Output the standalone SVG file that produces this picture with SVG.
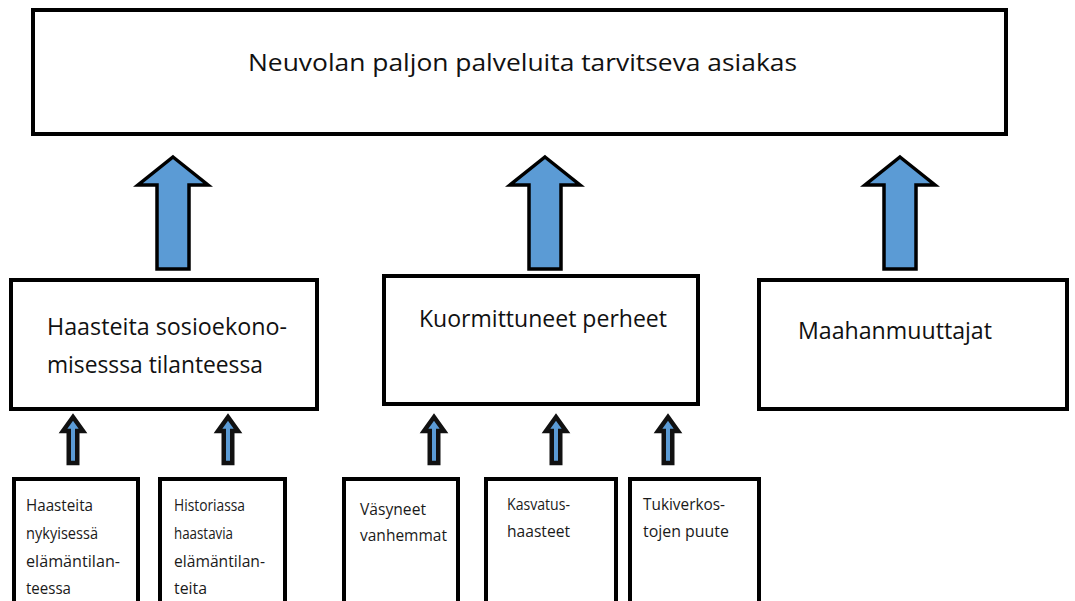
<svg xmlns="http://www.w3.org/2000/svg" width="1075" height="601" viewBox="0 0 1075 601">
  <defs>
    <style>
      .box { fill: #ffffff; stroke: #000000; stroke-width: 4; }
      .big-arrow { fill: #5B9BD5; stroke: #000000; stroke-width: 3.5; stroke-linejoin: miter; }
      .small-arrow { fill: #5B9BD5; stroke: #111111; stroke-width: 4.5; stroke-linejoin: miter; }
      .t-lg { font-family: "Open Sans", "Noto Sans", "Liberation Sans", sans-serif; font-size: 24px; fill: #111111; }
      .t-md { font-family: "Open Sans", "Noto Sans", "Liberation Sans", sans-serif; font-size: 23.5px; fill: #111111; }
      .t-sm { font-family: "Open Sans", "Noto Sans", "Liberation Sans", sans-serif; font-size: 15.5px; fill: #1a1a1a; }
    </style>
    <!-- block arrows drawn around origin, tip at y=0 -->
    <polygon id="bigArrow" class="big-arrow" points="0,0 35,28 16,28 16,112 -16,112 -16,28 -35,28"/>
    <polygon id="smallArrow" class="small-arrow" points="0,0 10,14 4.25,14 4.25,46 -4.25,46 -4.25,14 -10,14"/>
  </defs>

  <rect width="1075" height="601" fill="#ffffff"/>

  <!-- top level -->
  <g id="node-asiakas">
    <rect class="box" x="33" y="10" width="973" height="124"/>
    <text class="t-lg" x="248" y="71" textLength="549" lengthAdjust="spacingAndGlyphs">Neuvolan paljon palveluita tarvitseva asiakas</text>
  </g>

  <!-- second level -->
  <g id="node-sosioekonominen">
    <rect class="box" x="11" y="280" width="306" height="129"/>
    <text class="t-md" x="47" y="335" textLength="240" lengthAdjust="spacingAndGlyphs">Haasteita sosioekono-</text>
    <text class="t-md" x="47" y="373" textLength="216" lengthAdjust="spacingAndGlyphs">misesssa tilanteessa</text>
  </g>
  <g id="node-kuormittuneet">
    <rect class="box" x="384" y="276" width="314" height="128"/>
    <text class="t-md" x="419" y="327" textLength="248" lengthAdjust="spacingAndGlyphs">Kuormittuneet perheet</text>
  </g>
  <g id="node-maahanmuuttajat">
    <rect class="box" x="759" y="280" width="308" height="129"/>
    <text class="t-md" x="798" y="339" textLength="194" lengthAdjust="spacingAndGlyphs">Maahanmuuttajat</text>
  </g>

  <!-- third level (boxes run off the lower edge) -->
  <g id="node-nykyinen">
    <rect class="box" x="14" y="479" width="124" height="140"/>
    <text class="t-sm" x="26" y="511" textLength="67" lengthAdjust="spacingAndGlyphs">Haasteita</text>
    <text class="t-sm" x="26" y="539" textLength="72" lengthAdjust="spacingAndGlyphs">nykyisessä</text>
    <text class="t-sm" x="26" y="567" textLength="94" lengthAdjust="spacingAndGlyphs">elämäntilan-</text>
    <text class="t-sm" x="26" y="594" textLength="45" lengthAdjust="spacingAndGlyphs">teessa</text>
  </g>
  <g id="node-historia">
    <rect class="box" x="160" y="479" width="125" height="140"/>
    <text class="t-sm" x="174" y="511" textLength="71" lengthAdjust="spacingAndGlyphs">Historiassa</text>
    <text class="t-sm" x="174" y="539" textLength="59" lengthAdjust="spacingAndGlyphs">haastavia</text>
    <text class="t-sm" x="174" y="567" textLength="91" lengthAdjust="spacingAndGlyphs">elämäntilan-</text>
    <text class="t-sm" x="174" y="594" textLength="33" lengthAdjust="spacingAndGlyphs">teita</text>
  </g>
  <g id="node-vasyneet">
    <rect class="box" x="344" y="479" width="114" height="140"/>
    <text class="t-sm" x="360" y="515" textLength="66" lengthAdjust="spacingAndGlyphs">Väsyneet</text>
    <text class="t-sm" x="360" y="541" textLength="87" lengthAdjust="spacingAndGlyphs">vanhemmat</text>
  </g>
  <g id="node-kasvatus">
    <rect class="box" x="486" y="479" width="130" height="140"/>
    <text class="t-sm" x="507" y="510" textLength="63" lengthAdjust="spacingAndGlyphs">Kasvatus-</text>
    <text class="t-sm" x="507" y="537" textLength="63" lengthAdjust="spacingAndGlyphs">haasteet</text>
  </g>
  <g id="node-tukiverkostot">
    <rect class="box" x="630" y="479" width="129" height="140"/>
    <text class="t-sm" x="643" y="510" textLength="82" lengthAdjust="spacingAndGlyphs">Tukiverkos-</text>
    <text class="t-sm" x="643" y="537" textLength="86" lengthAdjust="spacingAndGlyphs">tojen puute</text>
  </g>

  <!-- connectors: block arrows pointing upward -->
  <g id="connectors">
    <use href="#bigArrow" x="173" y="157"/>
    <use href="#bigArrow" x="545" y="157"/>
    <use href="#bigArrow" x="900" y="157"/>
    <use href="#smallArrow" x="73" y="417"/>
    <use href="#smallArrow" x="228" y="417"/>
    <use href="#smallArrow" x="434" y="417"/>
    <use href="#smallArrow" x="556" y="417"/>
    <use href="#smallArrow" x="668" y="417"/>
  </g>
</svg>
